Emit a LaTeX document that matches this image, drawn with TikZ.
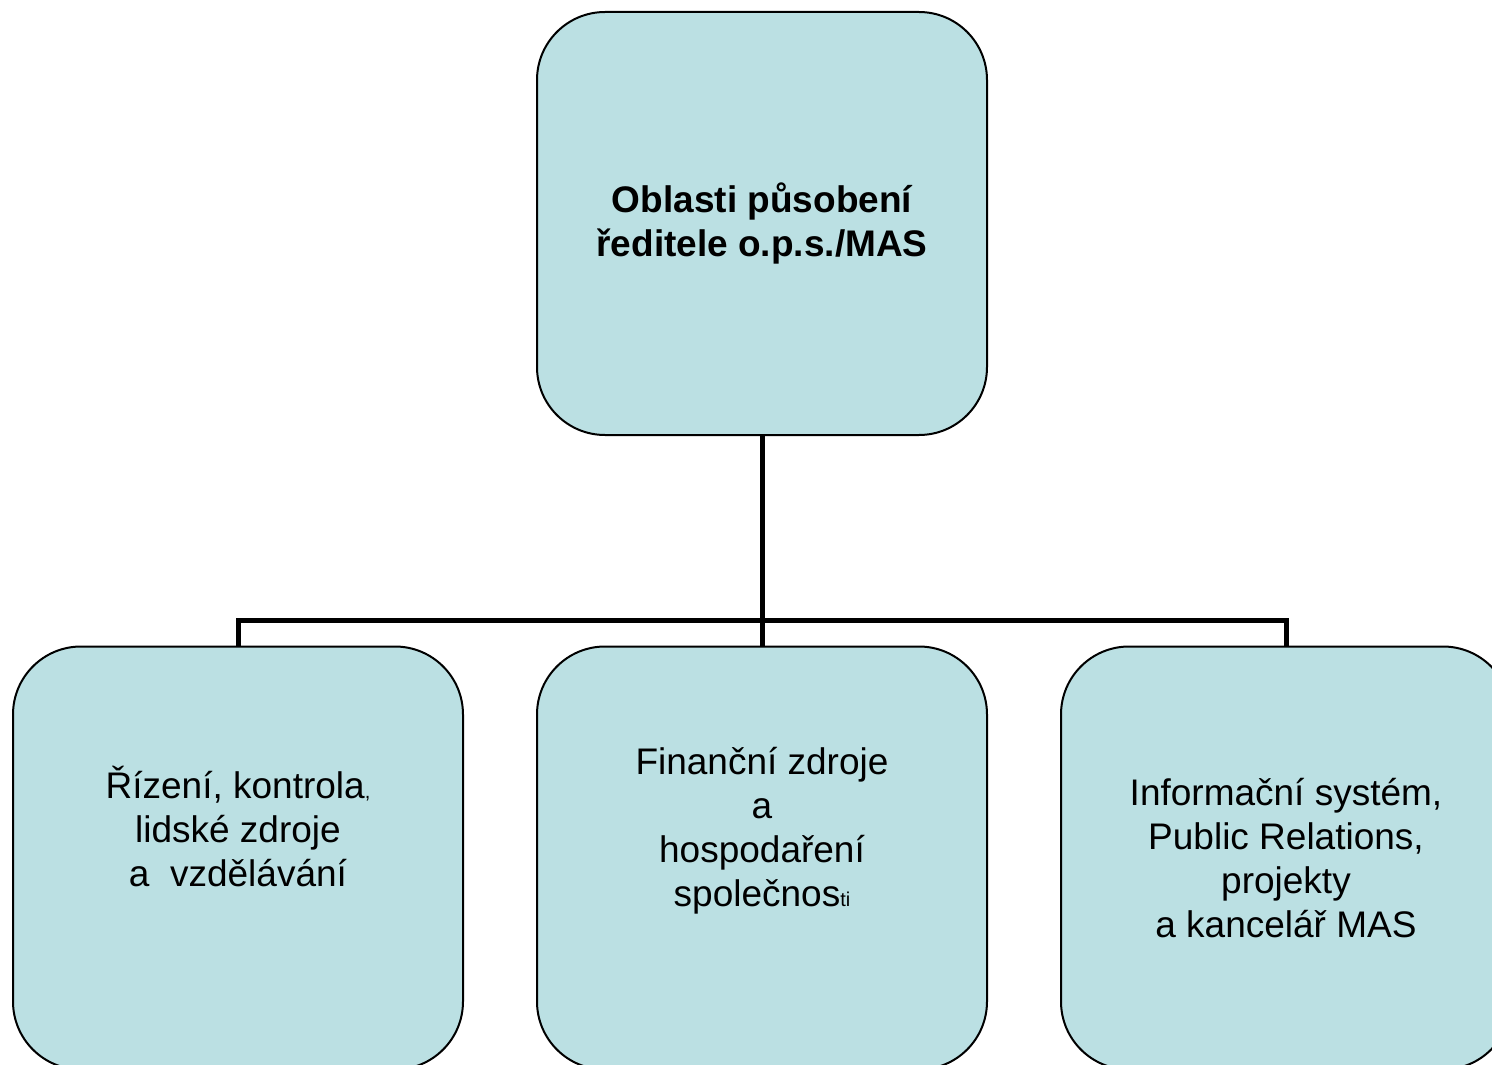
\documentclass[tikz,border=0pt]{standalone}
\usepackage{fontspec}
\setmainfont{Liberation Sans}
\definecolor{boxfill}{RGB}{187,224,227}
\begin{document}
\begin{tikzpicture}[x=1pt, y=-1pt,
    area/.style={draw, line width=2pt, fill=boxfill, rounded corners=68pt,
      minimum width=450pt, minimum height=423pt, inner sep=0pt, align=center,
      font=\fontsize{37}{44}\selectfont},
    link/.style={line width=5pt}]
    \useasboundingbox (0,0) rectangle (1492,1065);
    \clip (0,0) rectangle (1492,1065);

    \node[area, font=\fontsize{37}{44}\selectfont\bfseries] (head) at (762,223.5) {Oblasti působení\\ředitele o.p.s./MAS};

    \node[area, text depth=64pt] (rizeni) at (238,858) {Řízení, kontrola{\fontsize{20}{22}\selectfont,}\\lidské zdroje\\a~~vzdělávání};
    \node[area, text depth=62pt] (finance) at (762,858) {Finanční zdroje\\a\\hospodaření\\společnos{\fontsize{20}{22}\selectfont ti}};
    \node[area] (info) at (1286,858) {Informační systém,\\Public Relations,\\projekty\\a kancelář MAS};

    \coordinate (fork) at (762,620);
    \draw[link] (head) -- (fork);
    \draw[link] (fork) -| (rizeni);
    \draw[link] (fork) -- (finance);
    \draw[link] (fork) -| (info);
\end{tikzpicture}
\end{document}
